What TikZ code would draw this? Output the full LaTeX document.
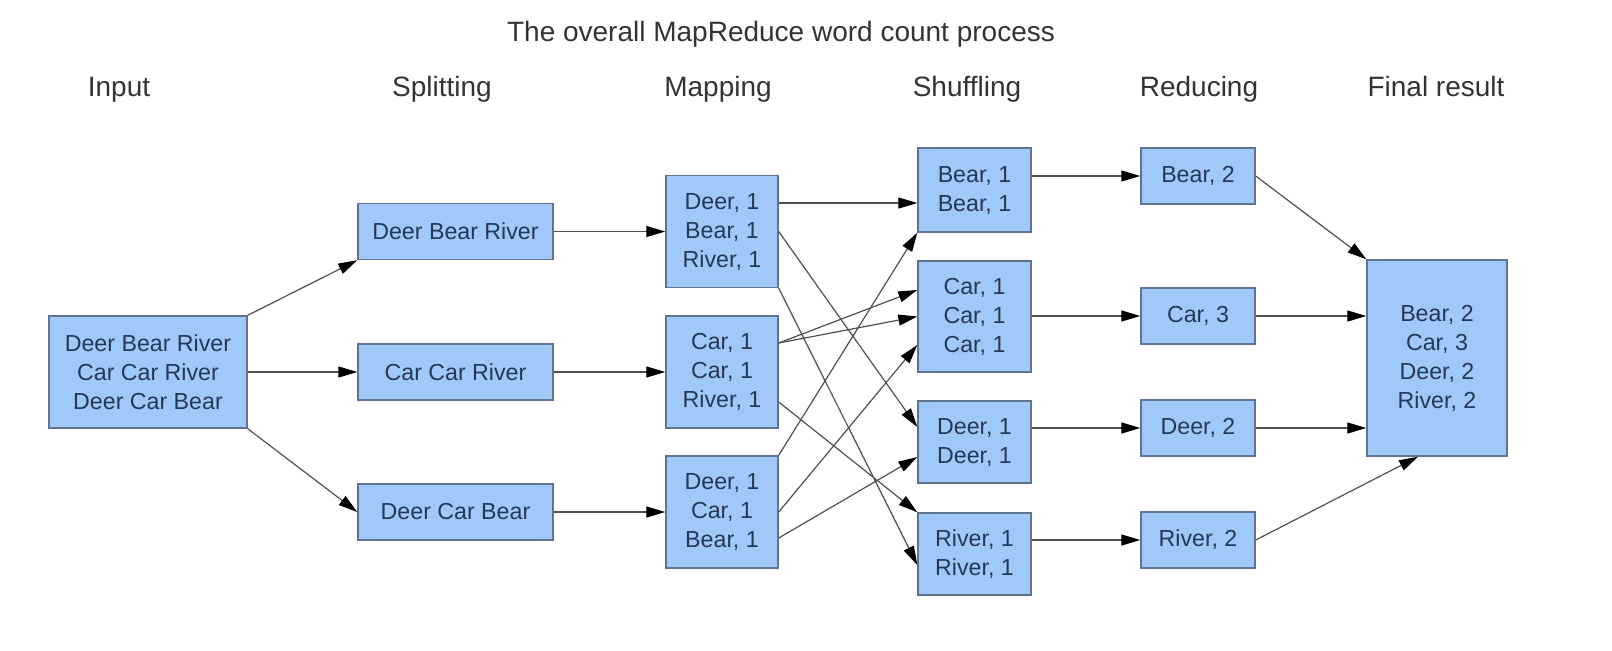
\documentclass[tikz,border=0pt]{standalone}
\usepackage{fontspec}
\setmainfont{Liberation Sans}
\usetikzlibrary{calc,arrows.meta}

\definecolor{boxfill}{RGB}{160,200,249}
\definecolor{boxline}{RGB}{96,116,146}
\definecolor{boxtext}{RGB}{36,56,88}
\definecolor{wire}{RGB}{80,80,80}

\begin{document}
\begin{tikzpicture}[x=0.5pt,y=-0.5pt,
    wbox/.style={draw=boxline,fill=boxfill,line width=0.7pt,text=boxtext,align=center,inner sep=0pt,font=\fontsize{11.6}{14.5}\selectfont},
    head/.style={text=black!80,anchor=base,font=\fontsize{14}{17}\selectfont},
    flow/.style={draw=wire,line width=0.6pt,-{Triangle[length=9.5pt,width=5.5pt,color=black]}}]

  %% page size in pixels of the screenshot
  \useasboundingbox (0,0) rectangle (1612,650);

  %%%% Title and column headers %%%%
  \node[head] (title) at (781,41) {The overall MapReduce word count process};
  \foreach \n/\x/\t in {hin/119/Input, hsplit/442/Splitting, hmap/718/Mapping,
                        hshuf/967/Shuffling, hred/1199/Reducing, hfin/1436/Final result}{
    \node[head] (\n) at (\x,96) {\t};
  }

  %%%% Boxes %%%%
  \node[wbox,minimum width=99pt,minimum height=56pt] (in) at (148,372)
    {Deer Bear River\\Car Car River\\Deer Car Bear};

  % splitting
  \foreach \n/\y/\t in {split1/231.5/Deer Bear River, split2/372/Car Car River, split3/512/Deer Car Bear}{
    \node[wbox,minimum width=97.5pt,minimum height=28pt] (\n) at (455.5,\y) {\t};
  }

  % mapping
  \foreach \n/\y/\t in {map1/231.5/{Deer, 1\\Bear, 1\\River, 1},
                        map2/372/{Car, 1\\Car, 1\\River, 1},
                        map3/512/{Deer, 1\\Car, 1\\Bear, 1}}{
    \node[wbox,minimum width=56pt,minimum height=56pt] (\n) at (722,\y) {\t};
  }

  % shuffling
  \foreach \n/\y/\h/\t in {shbear/190/42/{Bear, 1\\Bear, 1},
                           shcar/316.5/55.5/{Car, 1\\Car, 1\\Car, 1},
                           shdeer/442/41/{Deer, 1\\Deer, 1},
                           shriver/554/41/{River, 1\\River, 1}}{
    \node[wbox,minimum width=56.5pt,minimum height=\h pt] (\n) at (974.5,\y) {\t};
  }

  % reducing
  \foreach \n/\y/\t in {redbear/176/{Bear, 2}, redcar/316/{Car, 3},
                        reddeer/428/{Deer, 2}, redriver/540/{River, 2}}{
    \node[wbox,minimum width=57pt,minimum height=28pt] (\n) at (1198,\y) {\t};
  }

  \node[wbox,minimum width=70pt,minimum height=98pt] (final) at (1437,358)
    {Bear, 2\\Car, 3\\Deer, 2\\River, 2};

  %%%% Connectors %%%%
  \draw[flow] (in.north east) -- (split1.south west);
  \draw[flow] (in.east) -- (split2.west);
  \draw[flow] (in.south east) -- (split3.west);

  \foreach \i in {1,2,3}{
    \draw[flow] (split\i.east) -- (map\i.west);
  }

  % the crossing lines between mapping and shuffling
  \draw[flow] ($(map1.east)+(0,-28.5)$) -- ($(shbear.west)+(0,13)$);
  \draw[flow] (map1.east) -- ($(shdeer.west)+(0,-15)$);
  \draw[flow] (map1.south east) -- ($(shriver.west)+(0,11)$);
  \draw[flow] ($(map2.east)+(0,-29)$) -- ($(shcar.west)+(0,-26.5)$);
  \draw[flow] ($(map2.east)+(0,-29)$) -- (shcar.west);
  \draw[flow] ($(map2.east)+(0,30)$) -- (shriver.north west);
  \draw[flow] (map3.north east) -- (shbear.south west);
  \draw[flow] (map3.east) -- ($(shcar.west)+(0,28.5)$);
  \draw[flow] ($(map3.east)+(0,26)$) -- ($(shdeer.west)+(0,15)$);

  \foreach \s/\r in {shbear/redbear, shcar/redcar, shdeer/reddeer, shriver/redriver}{
    \draw[flow] (\s.east |- \r.west) -- (\r.west);
  }

  \draw[flow] (redbear.east) -- (final.north west);
  \draw[flow] (redcar.east) -- (redcar.east -| final.west);
  \draw[flow] (reddeer.east) -- (reddeer.east -| final.west);
  \draw[flow] (redriver.east) -- ($(final.south)+(-19,0)$);

\end{tikzpicture}
\end{document}
